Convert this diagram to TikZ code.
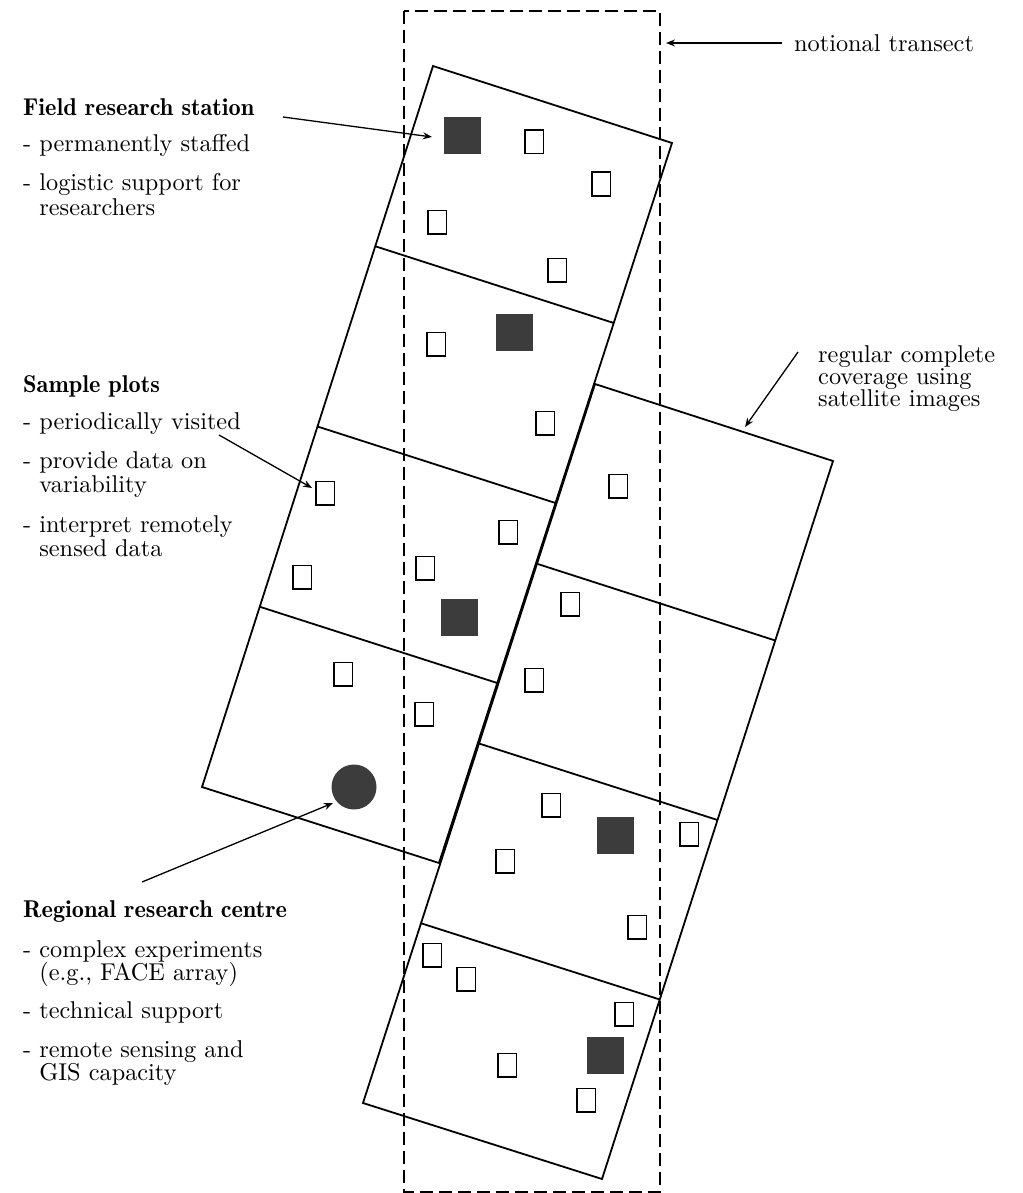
\documentclass[tikz,border=0pt]{standalone}
\usepackage{fontspec}
\setmainfont{lmroman10-regular.otf}[BoldFont=lmromandemi10-regular.otf]
\usetikzlibrary{arrows.meta,calc}
\definecolor{stipple}{HTML}{3C3C3C}
\tikzset{
  edge/.style={line width=1.8pt, line join=miter},
  transect/.style={line width=1.5pt, dash pattern=on 13pt off 6pt},
  plotbox/.style={draw, rectangle, line width=1.5pt, minimum width=18.5pt, minimum height=23.5pt, inner sep=0pt},
  station/.style={rectangle, fill=stipple, minimum width=37pt, minimum height=37pt, inner sep=0pt},
  centre/.style={circle, fill=stipple, minimum size=45pt, inner sep=0pt},
  lbl/.style={anchor=base west, inner sep=0pt, font=\fontsize{24.3}{26}\selectfont},
  head/.style={anchor=base west, inner sep=0pt, font=\fontsize{24.3}{26}\selectfont\bfseries},
  pointer/.style={line width=1.3pt, -{Stealth[length=9pt,width=7pt]}},
}
\begin{document}
\begin{tikzpicture}[x=1pt,y=-1pt]
\useasboundingbox (0,0) rectangle (1022,1193);
% left strip corners
\coordinate (LA) at (433,66);
\coordinate (LB) at (672,143);
\coordinate (LC) at (439,863);
\coordinate (LD) at (202,787);
% right strip corners
\coordinate (RA) at (595,384);
\coordinate (RB) at (833,461);
\coordinate (RC) at (602,1179);
\coordinate (RD) at (363,1103);
% strips
\draw[edge] (LA) -- (LB) -- (LC) -- (LD) -- cycle;
\draw[edge] (RA) -- (RB) -- (RC) -- (RD) -- cycle;
\foreach \f in {0.25,0.5,0.75}{
  \draw[edge] ($(LA)!\f!(LD)$) -- ($(LB)!\f!(LC)$);
  \draw[edge] ($(RA)!\f!(RD)$) -- ($(RB)!\f!(RC)$);
}
% transect
\draw[transect] (404,11) rectangle (660,1192);
% field stations
\node[station] (F1) at (462,136) {};
\node[station] (F2) at (514,332) {};
\node[station] (F3) at (459,617) {};
\node[station] (F4) at (615,835) {};
\node[station] (F5) at (605,1055) {};
% regional centre
\node[centre] (C) at (354,787) {};
% sample plots
\node[plotbox] (s1) at (534,142) {};
\node[plotbox] (s2) at (601,184) {};
\node[plotbox] (s3) at (437,222) {};
\node[plotbox] (s4) at (557,270) {};
\node[plotbox] (s5) at (436,344) {};
\node[plotbox] (s6) at (545,423) {};
\node[plotbox] (s7) at (618,486) {};
\node[plotbox] (s8) at (325,493) {};
\node[plotbox] (s9) at (508,532) {};
\node[plotbox] (s10) at (425,568) {};
\node[plotbox] (s11) at (302,577) {};
\node[plotbox] (s12) at (570,604) {};
\node[plotbox] (s13) at (343,674) {};
\node[plotbox] (s14) at (534,680) {};
\node[plotbox] (s15) at (424,714) {};
\node[plotbox] (s16) at (551,805) {};
\node[plotbox] (s17) at (505,861) {};
\node[plotbox] (s18) at (689,834) {};
\node[plotbox] (s19) at (637,927) {};
\node[plotbox] (s20) at (432,955) {};
\node[plotbox] (s21) at (466,979) {};
\node[plotbox] (s22) at (624,1014) {};
\node[plotbox] (s23) at (507,1065) {};
\node[plotbox] (s24) at (586,1100) {};
% labels
\node[head] (t1) at (23,116) {Field research station};
\node[lbl] (t1a) at (23,152) {- permanently staffed};
\node[lbl] (t1b) at (23,190) {- logistic support for};
\node[lbl] (t1c) at (23,215) {\hphantom{-} researchers};
\node[head] (t2) at (23,392) {Sample plots};
\node[lbl] (t2a) at (23,429) {- periodically visited};
\node[lbl] (t2b) at (23,468) {- provide data on};
\node[lbl] (t2c) at (23,492) {\hphantom{-} variability};
\node[lbl] (t2d) at (23,532) {- interpret remotely};
\node[lbl] (t2e) at (23,556) {\hphantom{-} sensed data};
\node[head] (t3) at (23,917) {Regional research centre};
\node[lbl] (t3a) at (23,957) {- complex experiments};
\node[lbl] (t3b) at (23,980) {\hphantom{-} (e.g., FACE array)};
\node[lbl] (t3c) at (23,1018) {- technical support};
\node[lbl] (t3d) at (23,1057) {- remote sensing and};
\node[lbl] (t3e) at (23,1080) {\hphantom{-} GIS capacity};
\node[lbl] (t4) at (794,52) {notional transect};
\node[lbl] (t5a) at (818,362) {regular complete};
\node[lbl] (t5b) at (818,384) {coverage using};
\node[lbl] (t5c) at (818,406) {satellite images};
% pointers
\coordinate (pF0) at (283,117); \coordinate (pF1) at (432,137);
\coordinate (pN0) at (782,43);  \coordinate (pN1) at (666,43);
\coordinate (pS0) at (219,435); \coordinate (pS1) at (312,488);
\coordinate (pR0) at (142,882); \coordinate (pR1) at (333,803);
\coordinate (pC0) at (798,352); \coordinate (pC1) at (745,427);
\draw[pointer] (pF0) -- (pF1);
\draw[pointer] (pN0) -- (pN1);
\draw[pointer] (pS0) -- (pS1);
\draw[pointer] (pR0) -- (pR1);
\draw[pointer] (pC0) -- (pC1);
\end{tikzpicture}
\end{document}
